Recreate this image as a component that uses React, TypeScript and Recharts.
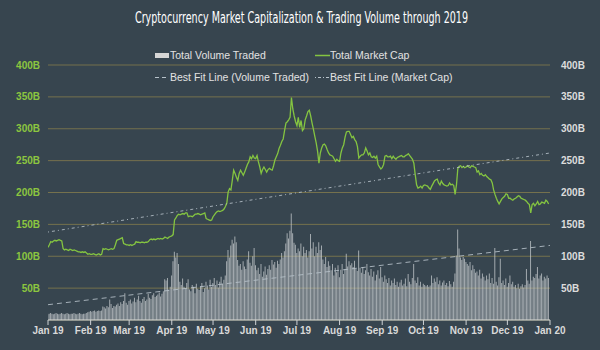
import React from 'react';
import { ComposedChart, Bar, Line, XAxis, YAxis, CartesianGrid, Legend } from 'recharts';

// Daily values for 2019 (billions USD), day index 0 = Jan 1 2019
const totalMarketCap: number[] = [
  114,118,123,122,124,125,124,125,126,125,
  124,112,110,111,110,109,111,110,109,110,
  109,108,107,107,106,107,106,107,105,103,
  104,103,103,104,103,102,103,104,102,103,
  112,111,112,111,110,111,112,111,112,118,
  125,126,127,128,129,120,119,118,118,117,
  118,117,118,119,123,122,122,121,122,122,
  121,122,122,123,126,127,126,127,126,127,
  128,127,128,127,128,130,129,128,130,131,
  132,134,157,160,164,166,165,166,167,166,
  168,168,162,163,163,162,164,166,166,167,
  166,165,166,167,168,159,158,157,156,157,
  162,165,168,170,171,170,171,172,174,178,
  183,201,206,204,219,235,230,224,219,230,
  235,231,227,232,238,244,248,256,253,258,
  254,253,258,248,240,230,236,240,236,232,
  236,238,236,235,242,251,256,261,269,274,
  280,284,297,309,311,314,318,349,331,320,
  311,305,318,302,313,297,300,314,320,327,
  329,320,309,299,288,278,265,246,262,270,
  275,276,273,267,262,259,258,257,253,249,
  252,250,249,262,270,275,287,295,296,296,
  291,286,288,283,280,272,254,257,259,259,
  262,270,265,259,262,256,255,257,254,257,
  244,240,237,239,244,257,258,256,256,257,
  253,257,254,252,255,256,257,258,256,256,
  258,259,261,258,255,252,246,228,212,207,
  208,210,207,211,212,211,210,207,205,210,
  214,218,220,221,215,212,218,214,212,211,
  210,211,215,212,213,211,197,212,238,241,
  242,239,241,239,240,242,240,239,242,241,
  240,239,232,234,228,230,227,226,228,225,
  223,221,220,215,204,197,191,186,182,186,
  190,192,194,198,197,191,191,189,188,190,
  191,193,195,194,191,190,189,188,186,183,
  181,168,181,183,179,182,186,181,182,185,
  184,183,188,186,182,
];

const totalVolumeTraded: number[] = [
  9,10,11,10,9,10,11,10,9,10,
  11,10,9,10,11,10,9,10,10,11,
  10,9,10,11,10,9,10,10,11,12,
  13,14,13,14,15,13,14,15,14,15,
  21,20,18,22,20,32,25,19,22,21,
  24,26,22,28,25,30,42,27,24,30,
  32,26,29,35,28,32,38,30,27,33,
  36,30,32,41,35,33,39,42,36,38,
  40,43,37,41,45,64,62,66,48,52,
  70,92,107,98,105,88,60,55,65,52,
  50,58,64,48,45,55,52,42,57,49,
  47,53,58,44,50,60,54,48,63,52,
  58,66,55,62,51,60,68,57,63,70,
  92,110,98,117,126,120,131,122,94,85,
  88,79,92,84,80,95,108,90,85,100,
  113,86,78,82,72,88,68,76,84,71,
  80,86,79,94,87,91,82,93,88,95,
  105,98,108,120,136,128,140,167,136,121,
  118,105,112,108,120,100,115,105,110,98,
  108,135,112,122,100,115,105,122,110,117,
  95,88,99,83,92,85,78,88,70,82,
  75,86,67,79,88,72,80,104,84,92,
  86,89,83,93,80,77,109,82,74,83,
  72,78,88,75,70,80,68,76,62,71,
  78,65,83,67,60,70,64,58,66,54,
  62,58,65,55,60,52,59,63,54,57,
  65,53,72,60,56,66,88,62,58,67,
  54,60,52,57,55,53,55,52,54,70,
  58,65,60,67,56,62,54,59,62,55,
  58,53,61,56,52,60,73,101,142,112,
  98,94,99,96,91,88,85,91,78,86,
  80,74,76,70,79,65,73,68,62,70,
  64,73,58,66,57,113,60,54,67,96,
  58,62,55,65,52,58,70,56,60,52,
  55,50,57,49,53,56,51,55,80,62,
  57,124,62,68,66,72,83,65,70,73,
  62,68,65,70,66,
];

// Best-fit line endpoints (day index, billions)
const fitDays: number[] = [0, 365];
const fitVolume: number[] = [24, 117];
const fitMarketCap: number[] = [138, 262];

const monthStartDays: number[] = [0, 31, 59, 90, 120, 151, 181, 212, 243, 273, 304, 334, 365];
const monthLabels: string[] = ['Jan 19', 'Feb 19', 'Mar 19', 'Apr 19', 'May 19', 'Jun 19', 'Jul 19', 'Aug 19', 'Sep 19', 'Oct 19', 'Nov 19', 'Dec 19', 'Jan 20'];
const yTicks: number[] = [50, 100, 150, 200, 250, 300, 350, 400];

const TITLE = 'Cryptocurrency Market Capitalization & Trading Volume through 2019';

type Row = { day: number; vol?: number; cap?: number; fitVol?: number; fitCap?: number };

const data: Row[] = totalMarketCap.map((c, i) => ({ day: i, cap: c, vol: totalVolumeTraded[i] }));
data.push({ day: 365 });
fitDays.forEach((d, k) => {
  const row = data.find((r) => r.day === d);
  if (row) {
    row.fitVol = fitVolume[k];
    row.fitCap = fitMarketCap[k];
  }
});

const BG = '#37454f';
const GREEN = '#84c441';
const GRID = '#75714d';
const FIT = '#b7c2ca';
const FONT = '"Liberation Sans", Arial, sans-serif';

const LegendContent = () => {
  const text: React.CSSProperties = { position: 'absolute', fontFamily: FONT, fontSize: 10.5, color: '#e2e2e2', whiteSpace: 'nowrap', lineHeight: '12px' };
  return (
    <div style={{ position: 'relative', width: 600, height: 44 }}>
      <svg width={600} height={44} style={{ position: 'absolute', left: 0, top: 0 }}>
        <rect x={155} y={8} width={14} height={5} fill="#d6d6d6" />
        <line x1={315} y1={10.5} x2={330} y2={10.5} stroke={GREEN} strokeWidth={1.5} />
        <line x1={155} y1={32.5} x2={169} y2={32.5} stroke={FIT} strokeWidth={1} strokeDasharray="4 3" />
        <line x1={315} y1={32.5} x2={330} y2={32.5} stroke={FIT} strokeWidth={1} strokeDasharray="1 2 3 2" />
      </svg>
      <span style={{ ...text, left: 170, top: 4 }}>Total Volume Traded</span>
      <span style={{ ...text, left: 330, top: 4 }}>Total Market Cap</span>
      <span style={{ ...text, left: 170, top: 26 }}>Best Fit Line (Volume Traded)</span>
      <span style={{ ...text, left: 330, top: 26 }}>Best Fit Line (Market Cap)</span>
    </div>
  );
};

export default function App() {
  return (
    <div style={{ position: 'relative', width: 600, height: 350, background: BG, overflow: 'hidden' }}>
      <style>{'body{margin:0;}'}</style>
      <svg width={600} height={44} style={{ position: 'absolute', left: 0, top: 0 }}>
        <text
          transform="translate(135,23) scale(0.72,1)"
          x={0}
          y={0}
          textLength={462.5}
          lengthAdjust="spacingAndGlyphs"
          fill="#ffffff"
          fontSize={15.5}
          fontFamily='"DejaVu Sans Condensed", "Liberation Sans", Arial, sans-serif'
        >
          {TITLE}
        </text>
      </svg>
      <ComposedChart
        width={600}
        height={350}
        data={data}
        margin={{ top: 65, right: 0, left: 0, bottom: 0 }}
        style={{ position: 'absolute', left: 0, top: 0 }}
      >
        <CartesianGrid yAxisId="left" vertical={false} stroke={GRID} strokeWidth={1} />
        <XAxis
          dataKey="day"
          type="number"
          domain={[0, 365]}
          ticks={monthStartDays}
          tickFormatter={(v: number) => monthLabels[monthStartDays.indexOf(v)] ?? ''}
          height={30}
          stroke="#cfd3d6"
          tickSize={5}
          tick={{ fill: '#d9d9d9', fontSize: 10, fontWeight: 700, fontFamily: FONT }}
          interval={0}
          allowDataOverflow
        />
        <YAxis
          yAxisId="left"
          domain={[0, 400]}
          ticks={yTicks}
          width={48}
          axisLine={false}
          tickLine={false}
          tickMargin={2}
          tickFormatter={(v: number) => `${v}B`}
          tick={{ fill: '#8cc63f', fontSize: 10, fontWeight: 700, fontFamily: FONT }}
          allowDataOverflow
        />
        <YAxis
          yAxisId="right"
          orientation="right"
          domain={[0, 400]}
          ticks={yTicks}
          width={50}
          axisLine={false}
          tickLine={false}
          tickMargin={5}
          tickFormatter={(v: number) => `${v}B`}
          tick={{ fill: '#dcdcdc', fontSize: 10, fontWeight: 700, fontFamily: FONT }}
          allowDataOverflow
        />
        <Legend
          layout="horizontal"
          verticalAlign="middle"
          align="center"
          content={<LegendContent />}
          wrapperStyle={{ position: 'absolute', top: 45, left: 0, width: 600, height: 44 }}
        />
        <Bar yAxisId="right" dataKey="vol" barSize={1} fill="#cdd1d4" fillOpacity={0.72} isAnimationActive={false} />
        <Line yAxisId="right" dataKey="fitVol" stroke={FIT} strokeWidth={1} strokeOpacity={0.85} strokeDasharray="5 4" dot={false} connectNulls isAnimationActive={false} />
        <Line yAxisId="left" dataKey="cap" stroke={GREEN} strokeWidth={1.3} dot={false} isAnimationActive={false} />
        <Line yAxisId="left" dataKey="fitCap" stroke={FIT} strokeWidth={1} strokeOpacity={0.85} strokeDasharray="1 3 3 3" dot={false} connectNulls isAnimationActive={false} />
      </ComposedChart>
    </div>
  );
}
